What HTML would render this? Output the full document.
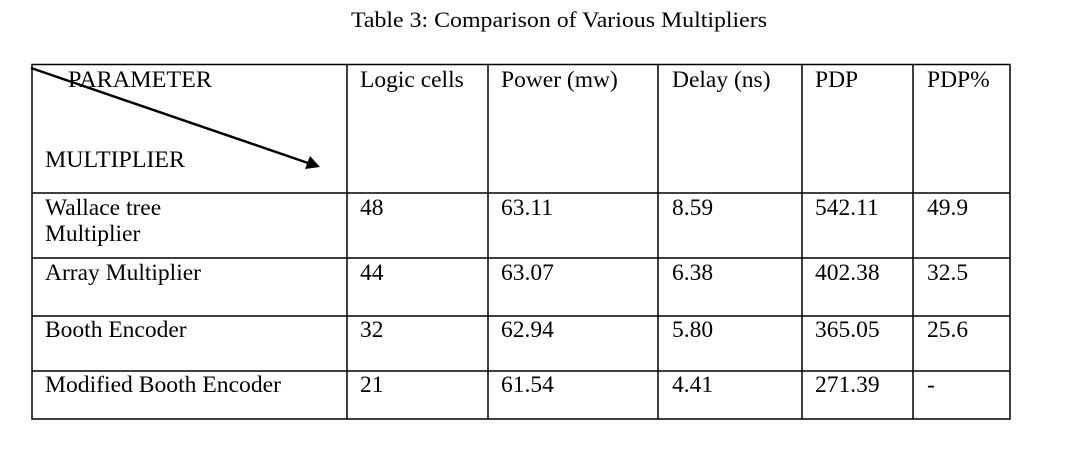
<!DOCTYPE html>
<html><head><meta charset="utf-8"><style>
html,body{margin:0;padding:0;background:#fff;}
svg text{font-family:"Liberation Serif",serif;font-size:23.5px;fill:#000;}
</style></head><body>
<svg width="1067" height="449" viewBox="0 0 1067 449" xmlns="http://www.w3.org/2000/svg">
<text x="351" y="27" textLength="416" lengthAdjust="spacingAndGlyphs" style="font-size:22px">Table 3: Comparison of Various Multipliers</text>
<g stroke="#000" stroke-width="1.5" fill="none">
<rect x="32" y="64.5" width="978" height="354.5"/>
<line x1="32" y1="193" x2="1010" y2="193"/>
<line x1="32" y1="258" x2="1010" y2="258"/>
<line x1="32" y1="316" x2="1010" y2="316"/>
<line x1="32" y1="371" x2="1010" y2="371"/>
<line x1="347" y1="64.5" x2="347" y2="419"/>
<line x1="488" y1="64.5" x2="488" y2="419"/>
<line x1="658" y1="64.5" x2="658" y2="419"/>
<line x1="802" y1="64.5" x2="802" y2="419"/>
<line x1="913" y1="64.5" x2="913" y2="419"/>
<line x1="31" y1="68" x2="308" y2="163" stroke-width="2.5"/>
</g>
<polygon points="320,167 305,169 310,156" fill="#000"/>
<text x="68" y="87" textLength="144" lengthAdjust="spacingAndGlyphs">PARAMETER</text>
<text x="45" y="167" textLength="140" lengthAdjust="spacingAndGlyphs">MULTIPLIER</text>
<text x="360" y="87">Logic cells</text>
<text x="501" y="87">Power (mw)</text>
<text x="672" y="87">Delay (ns)</text>
<text x="815" y="87">PDP</text>
<text x="927" y="87">PDP%</text>

<text x="45" y="215">Wallace tree</text>
<text x="45" y="241">Multiplier</text>
<text x="360" y="215">48</text><text x="501" y="215">63.11</text><text x="672" y="215">8.59</text><text x="815" y="215">542.11</text><text x="927" y="215">49.9</text>

<text x="45" y="280">Array Multiplier</text>
<text x="360" y="280">44</text><text x="501" y="280">63.07</text><text x="672" y="280">6.38</text><text x="815" y="280">402.38</text><text x="927" y="280">32.5</text>

<text x="45" y="337">Booth Encoder</text>
<text x="360" y="337">32</text><text x="501" y="337">62.94</text><text x="672" y="337">5.80</text><text x="815" y="337">365.05</text><text x="927" y="337">25.6</text>

<text x="45" y="392" textLength="236" lengthAdjust="spacingAndGlyphs">Modified Booth Encoder</text>
<text x="360" y="392">21</text><text x="501" y="392">61.54</text><text x="672" y="392">4.41</text><text x="815" y="392">271.39</text><text x="927" y="392">-</text>
</svg>
</body></html>
